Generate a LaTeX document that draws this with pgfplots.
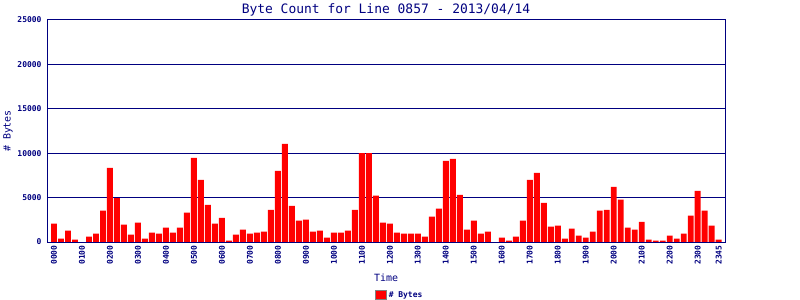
\documentclass[border=0pt]{standalone}
\usepackage{pgfplots}
\pgfplotsset{compat=1.18}
\usepackage{fontspec}
\setmainfont{DejaVu Sans Mono}
\definecolor{navy}{RGB}{0,0,128}
\definecolor{barred}{RGB}{255,0,0}
\begin{document}
\begin{tikzpicture}
\path[use as bounding box] (0,0) rectangle (800bp,300bp);
\begin{axis}[
  at={(47bp,58bp)}, anchor=south west,
  width=678bp, height=222bp, scale only axis=true,
  xmin=-1, xmax=95.9, ymin=0, ymax=25000,
  axis line style={navy, line width=1bp},
  ytick={0,5000,10000,15000,20000,25000},
  scaled y ticks=false,
  yticklabel={\pgfmathprintnumber[fixed,precision=0,1000 sep={}]{\tick}},
  xtick={0,4,8,12,16,20,24,28,32,36,40,44,48,52,56,60,64,68,72,76,80,84,88,92,95},
  xticklabels={0000,0100,0200,0300,0400,0500,0600,0700,0800,0900,1000,1100,1200,1300,1400,1500,1600,1700,1800,1900,2000,2100,2200,2300,2345},
  major tick length=0pt,
  /pgf/number format/assume math mode=true,
  /pgf/number format/1000 sep={},
  ymajorgrids=true,
  grid style={navy, line width=1bp},
  yticklabel style={font=\fontsize{8}{9}\selectfont\bfseries, text=navy, xshift=-2bp},
  xticklabel style={font=\fontsize{8}{9}\selectfont\bfseries, text=navy, rotate=90, anchor=east, yshift=0bp},
  every axis title shift=0pt,
  title={Byte Count for Line 0857 - 2013/04/14},
  title style={font=\fontsize{13}{15}\selectfont, text=navy, at={(axis description cs:0.5,1.029)}, anchor=base, inner sep=0pt},
  xlabel={Time},
  xlabel style={font=\fontsize{10}{12}\selectfont, text=navy, at={(axis description cs:0.5,-0.162)}, anchor=center},
  ylabel={\# Bytes},
  ylabel style={font=\fontsize{10}{12}\selectfont, text=navy, at={(axis description cs:-0.0575,0.5)}, anchor=center, rotate=0},
  legend style={at={(axis description cs:0.52,-0.239)}, anchor=center, draw=none, fill=none,
    font=\fontsize{8}{9}\selectfont\bfseries, text=navy, inner sep=0pt},
  legend image code/.code={\draw[fill=barred, draw=gray, line width=1bp] (0bp,-4bp) rectangle (11bp,4.5bp);},
]
\addplot[ybar, bar width=0.85, bar shift=0pt, fill=barred, draw=none] coordinates {
(0,2060) (1,370) (2,1270) (3,260) (4,0) (5,600) (6,940) (7,3520)
(8,8350) (9,4940) (10,1950) (11,820) (12,2170) (13,370) (14,1050) (15,940)
(16,1610) (17,1050) (18,1610) (19,3300) (20,9480) (21,7000) (22,4190) (23,2060)
(24,2730) (25,150) (26,820) (27,1390) (28,940) (29,1050) (30,1160) (31,3630)
(32,8010) (33,11050) (34,4080) (35,2400) (36,2510) (37,1160) (38,1270) (39,490)
(40,1050) (41,1050) (42,1270) (43,3630) (44,10000) (45,10000) (46,5210) (47,2170)
(48,2060) (49,1050) (50,940) (51,940) (52,940) (53,600) (54,2850) (55,3750)
(56,9140) (57,9360) (58,5320) (59,1390) (60,2400) (61,940) (62,1160) (63,0)
(64,490) (65,150) (66,600) (67,2400) (68,7000) (69,7790) (70,4420) (71,1720)
(72,1840) (73,370) (74,1500) (75,710) (76,490) (77,1160) (78,3520) (79,3630)
(80,6220) (81,4760) (82,1610) (83,1390) (84,2280) (85,260) (86,150) (87,150)
(88,710) (89,370) (90,940) (91,2960) (92,5770) (93,3520) (94,1840) (95,260)
};
\addlegendentry{\# Bytes}
\end{axis}
\end{tikzpicture}
\end{document}
